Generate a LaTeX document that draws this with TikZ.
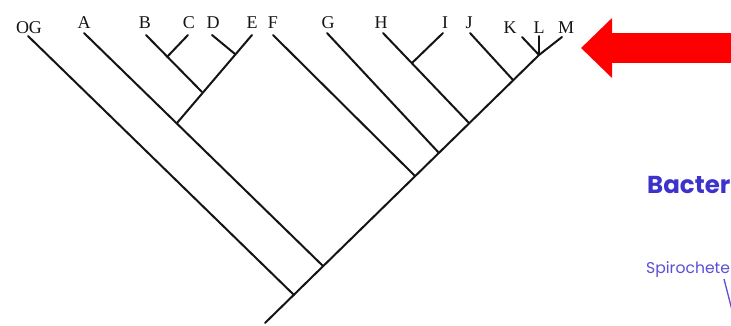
\documentclass[tikz,border=0pt]{standalone}
\usepackage{fontspec}
\setmainfont{Liberation Serif}
\newfontfamily\bluesans{Poppins}
\usetikzlibrary{arrows.meta}
\definecolor{treeline}{HTML}{141414}
\definecolor{alert}{HTML}{FF0000}
\definecolor{titleblue}{HTML}{3D33CC}
\definecolor{subblue}{HTML}{5A4FD8}
\tikzset{
  branch/.style={draw=treeline,line width=2pt,line cap=round},
  taxon/.style={font=\fontsize{18}{18}\selectfont,text=treeline,anchor=base,inner sep=0pt},
  pointer/.style={draw=alert,line width=30pt,-{Triangle[length=31pt,width=58pt]}},
  groupname/.style={font=\bluesans\bfseries\fontsize{24.5}{24.5}\selectfont,text=titleblue,anchor=base west,inner sep=0pt},
  subname/.style={font=\bluesans\fontsize{15.6}{15.6}\selectfont,text=subblue,anchor=base west,inner sep=0pt},
  leader/.style={draw=subblue,line width=1.3pt},
}

\begin{document}
\begin{tikzpicture}[x=1pt,y=-1pt]
  \useasboundingbox (0,0) rectangle (731,325);
  \clip (0,0) rectangle (731,325);
  \fill[white] (0,0) rectangle (731,325);

  % tips
  \coordinate (tOG) at (28,36);
  \coordinate (tA) at (84,33);
  \coordinate (tB) at (146,35);
  \coordinate (tC) at (188,35);
  \coordinate (tD) at (212,35);
  \coordinate (tE) at (252,35);
  \coordinate (tF) at (273,35);
  \coordinate (tG) at (327,33);
  \coordinate (tH) at (383,33);
  \coordinate (tI) at (443,33);
  \coordinate (tJ) at (470,33);
  \coordinate (tK) at (522,37);
  \coordinate (tL) at (539,36);
  \coordinate (tM) at (562,37);

  % junctions
  \coordinate (root) at (265,323);
  \coordinate (j1) at (294,295);
  \coordinate (j2) at (323,266);
  \coordinate (j3) at (415,176);
  \coordinate (j4) at (439,153);
  \coordinate (j5) at (469,123);
  \coordinate (j6) at (513,80);
  \coordinate (j7) at (539,55);
  \coordinate (jA) at (177,123);
  \coordinate (jBE) at (202,92);
  \coordinate (jBC) at (167,57);
  \coordinate (jDE) at (235,54);
  \coordinate (jHI) at (412,63);

  \node[taxon] (lOG) at (29,33) {OG};
  \node[taxon] (lA) at (84,28) {A};
  \node[taxon] (lB) at (145,28) {B};
  \node[taxon] (lC) at (189,28) {C};
  \node[taxon] (lD) at (213,28) {D};
  \node[taxon] (lE) at (252,28) {E};
  \node[taxon] (lF) at (273,28) {F};
  \node[taxon] (lG) at (328,28) {G};
  \node[taxon] (lH) at (381,28) {H};
  \node[taxon] (lI) at (445,28) {I};
  \node[taxon] (lJ) at (469,28) {J};
  \node[taxon] (lK) at (510,33) {K};
  \node[taxon] (lL) at (539,33) {L};
  \node[taxon] (lM) at (566,33) {M};

  \draw[branch] (root) -- (j7);
  \draw[branch] (tOG) -- (j1);
  \draw[branch] (tA) -- (j2);
  \draw[branch] (tE) -- (jA);
  \draw[branch] (tB) -- (jBE);
  \draw[branch] (tC) -- (jBC);
  \draw[branch] (tD) -- (jDE);
  \draw[branch] (tF) -- (j3);
  \draw[branch] (tG) -- (j4);
  \draw[branch] (tH) -- (j5);
  \draw[branch] (tI) -- (jHI);
  \draw[branch] (tJ) -- (j6);
  \draw[branch] (tK) -- (j7);
  \draw[branch] (tL) -- (j7);
  \draw[branch] (tM) -- (j7);

  \coordinate (arrowTail) at (740,48);
  \coordinate (arrowTip) at (581,48);
  \draw[pointer] (arrowTail) -- (arrowTip);

  \node[groupname] (bact) at (647,193) {Bacter};
  \node[subname] (spiro) at (646,273) {Spirochete};
  \coordinate (spiroEnd) at (732,310);
  \draw[leader] (724,279) coordinate (spiroFoot) -- (spiroEnd);
\end{tikzpicture}
\end{document}
